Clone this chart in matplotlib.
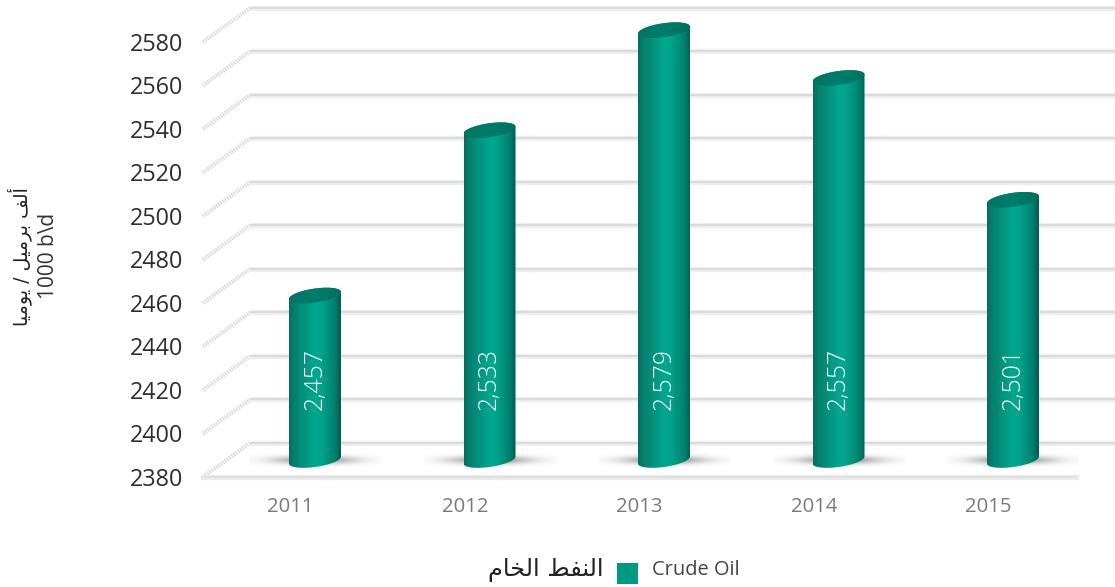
import numpy as np
import matplotlib
matplotlib.use('Agg')
import matplotlib.pyplot as plt
from matplotlib.colors import LinearSegmentedColormap
from matplotlib.patches import PathPatch, Rectangle
from matplotlib.path import Path

# Datos
years = ['2011', '2012', '2013', '2014', '2015']
crude_oil = [2457, 2533, 2579, 2557, 2501]
bar_labels = ['2,457', '2,533', '2,579', '2,557', '2,501']
y_ticks = [2380, 2400, 2420, 2440, 2460, 2480, 2500, 2520, 2540, 2560, 2580]

# Arabic has to be shaped by hand, matplotlib does not do it
ar_axis = '\uFE83\uFEDF\uFED2 \uFE91\uFEAE\uFEE3\uFEF4\uFEDE / \uFEF3\uFEEE\uFEE3\uFEF4\uFE8E'[::-1]
ar_legend = '\uFE8D\uFEDF\uFEE8\uFED4\uFEC2 \uFE8D\uFEDF\uFEA8\uFE8E\uFEE1'[::-1]

W, H = 1115, 587
PX_X = 174.5   # pixels per category
PX_Y = 2.175   # pixels per unit of value

fig = plt.figure(figsize=(W / 100, H / 100), dpi=100)
ax = fig.add_axes([0, 0, 1, 1])
ax.axis('off')

# limits picked so that category 0 sits at x=315 and 2380 at y=463 (pixels)
xlim = (-315 / PX_X, (W - 315) / PX_X)
ylim = (2380 - (H - 463) / PX_Y, 2380 + 463 / PX_Y)

# 3D box: the wall is shifted up/right from the front edge
back_dy = 20 / PX_Y
front_dy = -14 / PX_Y
x_front = -112 / PX_X
x_back = -65 / PX_X
x_wall_end = xlim[1]
x_floor_end = 761 / PX_X

for i, t in enumerate(y_ticks):
    ax.plot([x_back, x_wall_end], [t + back_dy] * 2, color='#eeeeee', lw=3.8, zorder=1, solid_capstyle='butt')
    ax.plot([x_back, x_wall_end], [t + back_dy] * 2, color='#dadada', lw=1.3, zorder=1.1, solid_capstyle='butt')
    ax.plot([x_front, x_back], [t + front_dy, t + back_dy], color='#dedede', lw=3, ls=(0, (0.4, 0.25)), zorder=1)
    ax.text(x_front - 20 / PX_X, t + front_dy - 3 / PX_Y, str(t), ha='right', va='center', fontsize=16.8,
            family='Open Sans', color='#2e2e2e')

ax.plot([x_front, x_floor_end], [y_ticks[0] + front_dy] * 2, color='#ebebeb', lw=3.8, zorder=1)
ax.plot([x_front, x_floor_end], [y_ticks[0] + front_dy] * 2, color='#dedede', lw=1.2, zorder=1.1)

# Cylinders
side_cmap = LinearSegmentedColormap.from_list('side', [(0, '#056d5e'), (0.1, '#07806f'), (0.5, '#00a78f'),
                                                       (0.62, '#00a48d'), (0.88, '#00806f'), (1, '#005c50')])
top_cmap = LinearSegmentedColormap.from_list('top', ['#007465', '#007d6c', '#006f60'])
ramp = np.linspace(0, 1, 128).reshape(1, -1)

hw = 26 / PX_X
hh = 7 / PX_Y
tilt = 3.5 / PX_Y
t_up = np.linspace(np.pi, 0, 60)
t_down = np.linspace(0, -np.pi, 60)

# soft floor shadow
sx = np.linspace(-1, 1, 200)
sy = np.linspace(-1, 1, 40)
gx, gy = np.meshgrid(sx, sy)
shadow = np.zeros((40, 200, 4))
shadow[..., :3] = 0.45
shadow[..., 3] = 0.8 * np.exp(-(gx / 0.6) ** 2 - (gy / 0.45) ** 2)

for i, v in enumerate(crude_oil):
    # cylinder foot sits 3 px above the nominal zero level
    base = y_ticks[0] + 3 / PX_Y
    ax.imshow(shadow, extent=(i - 66 / PX_X, i + 66 / PX_X, base - 9 / PX_Y, base + 9 / PX_Y),
              aspect='auto', zorder=2, interpolation='bilinear')

    xs_top = i + hw * np.cos(t_up)
    ys_top = v + hh * np.sin(t_up) + tilt * np.cos(t_up)
    xs_bot = i + hw * np.cos(t_down)
    ys_bot = base + hh * np.sin(t_down) + tilt * np.cos(t_down)
    outline = np.column_stack([np.r_[xs_top, xs_bot], np.r_[ys_top, ys_bot]])
    side = ax.imshow(ramp, extent=(i - hw, i + hw, base - 10, v + 10), aspect='auto', cmap=side_cmap, zorder=3,
                     interpolation='bilinear')
    side.set_clip_path(PathPatch(Path(np.vstack([outline, outline[0]])), transform=ax.transData))

    t_all = np.linspace(0, 2 * np.pi, 80)
    xs_cap = i + hw * np.cos(t_all)
    ys_cap = v + hh * np.sin(t_all) + tilt * np.cos(t_all)
    cap = ax.imshow(ramp, extent=(i - hw, i + hw, v - 10, v + 10), aspect='auto', cmap=top_cmap, zorder=4)
    cap.set_clip_path(PathPatch(Path(np.column_stack([xs_cap, ys_cap])), transform=ax.transData))

    ax.text(i, 2380 + (463 - 378.5) / PX_Y, bar_labels[i], rotation=90, ha='center', va='center', fontsize=17.8,
            family='Open Sans', weight='light', color='white', zorder=5)
    ax.text(i - 24.5 / PX_X, 2380 - (507 - 463) / PX_Y, years[i], ha='center', va='center', fontsize=14.6,
            family='Open Sans', color='#7a7a7a')

ax.set_xlim(xlim)
ax.set_ylim(ylim)

# Axis titles
fig.text(20 / W, 1 - 257 / H, ar_axis, rotation=90, ha='center', va='center', fontsize=13.7, color='#222222',
         family='DejaVu Sans')
fig.text(48 / W, 1 - 256 / H, '1000 b\\d', rotation=90, ha='center', va='center', fontsize=15, color='#333333',
         family='Open Sans')

# Legend
fig.add_artist(Rectangle((617 / W, 1 - 584 / H), 21 / W, 21 / H, transform=fig.transFigure, color='#009a84', lw=0))
fig.text(652 / W, 1 - 570 / H, 'Crude Oil', ha='left', va='center', fontsize=14.4, color='#444444', family='Open Sans')
fig.text(603 / W, 1 - 570 / H, ar_legend, ha='right', va='center', fontsize=17.4, color='#222222',
         family='DejaVu Sans')

fig.savefig('out.png', dpi=100)
